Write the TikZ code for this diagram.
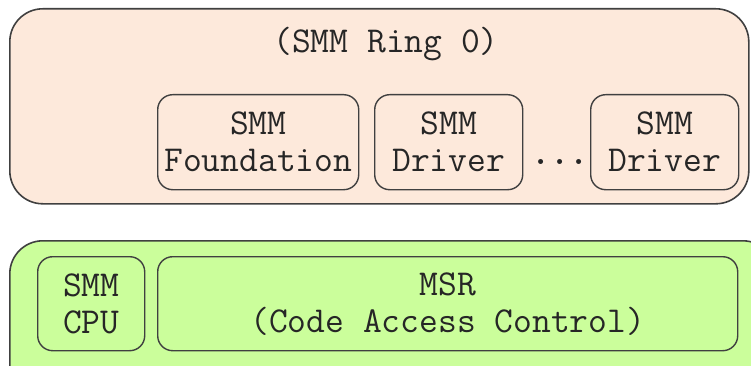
\documentclass[tikz,border=0pt]{standalone}
\usepackage{fontspec}
\definecolor{ringfill}{HTML}{FDE9DB}
\definecolor{hwfill}{HTML}{CBFE9B}
\definecolor{edge}{HTML}{404040}
\begin{document}
\begin{tikzpicture}[x=1pt,y=-1pt,
  every node/.style={font=\ttfamily\fontsize{36.5}{37}\selectfont, text=black!85},
  outerbox/.style={draw=edge, line width=1.6pt, rounded corners=33pt, anchor=north west, inner sep=0pt},
  innerbox/.style={draw=edge, line width=1.4pt, rounded corners=15pt, anchor=north west, inner sep=0pt, align=center}]
  \useasboundingbox (0,0) rectangle (751,366);
  % software layer
  \node[outerbox, fill=ringfill, minimum width=739pt, minimum height=195pt] (ring) at (9,8) {};
  \node (ringlabel) at (386,44) {(SMM Ring 0)};
  \node[innerbox, minimum width=201pt, minimum height=95pt] (found) at (157,94) {SMM\\Foundation};
  \node[innerbox, minimum width=148pt, minimum height=95pt] (drv1) at (374,94) {SMM\\Driver};
  \node[innerbox, minimum width=148pt, minimum height=95pt] (drv2) at (590,94) {SMM\\Driver};
  \node[inner sep=0pt] (dots) at (560,162) {\textbf{...}};
  % hardware layer
  \node[outerbox, fill=hwfill, minimum width=766pt, minimum height=160pt] (hw) at (9,240) {};
  \node[innerbox, minimum width=107pt, minimum height=94pt] (cpu) at (37,256) {SMM\\CPU};
  \node[innerbox, minimum width=580pt, minimum height=94pt] (msr) at (157,256) {MSR\\(Code Access Control)};
\end{tikzpicture}
\end{document}
